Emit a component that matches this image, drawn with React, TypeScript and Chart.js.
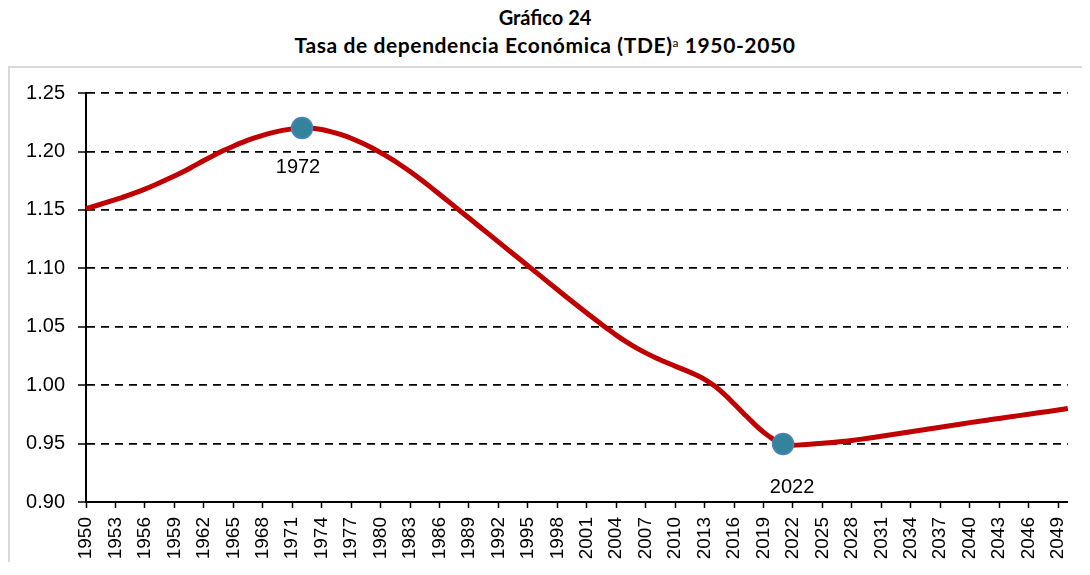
import React, { useEffect, useRef } from "react";
import { Chart, registerables } from "chart.js";

Chart.register(...registerables);

const years: string[] = [];
for (let yr = 1950; yr <= 2050; yr++) years.push(String(yr));

const tdeValues: number[] = [
  // 1950-1959
  1.1510, 1.1535, 1.1561, 1.1588, 1.1616, 1.1646, 1.1678, 1.1713, 1.1751, 1.1790,
  // 1960-1969
  1.1830, 1.1876, 1.1922, 1.1966, 1.2007, 1.2045, 1.2080, 1.2111, 1.2138, 1.2161,
  // 1970-1979
  1.2180, 1.2193, 1.2200, 1.2198, 1.2187, 1.2168, 1.2143, 1.2113, 1.2077, 1.2036,
  // 1980-1989
  1.1990, 1.1940, 1.1886, 1.1828, 1.1766, 1.1701, 1.1634, 1.1566, 1.1498, 1.1430,
  // 1990-1999
  1.1362, 1.1294, 1.1226, 1.1158, 1.1090, 1.1022, 1.0954, 1.0886, 1.0818, 1.0750,
  // 2000-2009
  1.0683, 1.0617, 1.0553, 1.0490, 1.0428, 1.0372, 1.0321, 1.0276, 1.0235, 1.0198,
  // 2010-2019
  1.0163, 1.0129, 1.0093, 1.0050, 0.9994, 0.9923, 0.9841, 0.9756, 0.9673, 0.9598,
  // 2020-2029
  0.9537, 0.9497, 0.9486, 0.9490, 0.9496, 0.9503, 0.9510, 0.9518, 0.9527, 0.9538,
  // 2030-2039
  0.9550, 0.9562, 0.9575, 0.9588, 0.9601, 0.9614, 0.9627, 0.9640, 0.9653, 0.9666,
  // 2040-2049
  0.9679, 0.9691, 0.9703, 0.9715, 0.9727, 0.9739, 0.9751, 0.9763, 0.9775, 0.9787,
  // 2050
  0.9800,
];

const highlightYears: string[] = ["1972", "2021"];
const highlightLabels: string[] = ["1972", "2022"];

const yMin = 0.9;
const yMax = 1.25;
const yStep = 0.05;

const LABEL_OFFSETS = [
  { dx: -4, dy: 39 },
  { dx: 9, dy: 44 },
];

const FONT = "'Liberation Sans', Arial, sans-serif";

export default function App() {
  const canvasRef = useRef<HTMLCanvasElement | null>(null);

  useEffect(() => {
    const canvas = canvasRef.current;
    if (!canvas) return;

    const highlightData = years.map((yr, i) =>
      highlightYears.includes(yr) ? tdeValues[i] : null
    );

    const labelPlugin = {
      id: "pointLabels",
      afterDatasetsDraw(c: any) {
        const ctx = c.ctx;
        const xs = c.scales.x;
        const ys = c.scales.y;
        ctx.save();
        ctx.font = `20px ${FONT}`;
        ctx.fillStyle = "#000";
        ctx.textAlign = "center";
        ctx.textBaseline = "middle";
        highlightYears.forEach((yr, i) => {
          const idx = years.indexOf(yr);
          const px = xs.getPixelForValue(idx);
          const py = ys.getPixelForValue(tdeValues[idx]);
          ctx.fillText(highlightLabels[i], px + LABEL_OFFSETS[i].dx, py + LABEL_OFFSETS[i].dy);
        });
        ctx.restore();
      },
    };

    const chart = new Chart(canvas, {
      type: "line",
      data: {
        labels: years,
        datasets: [
          {
            label: "Puntos",
            data: highlightData,
            showLine: false,
            pointRadius: 10.5,
            pointBackgroundColor: "#31849B",
            pointBorderColor: "#4F81BD",
            pointBorderWidth: 1.5,
            order: 0,
          },
          {
            label: "TDE",
            data: tdeValues,
            borderColor: "#C00000",
            borderWidth: 5,
            pointRadius: 0,
            cubicInterpolationMode: "monotone",
            fill: false,
            order: 1,
          },
        ],
      },
      options: {
        animation: false,
        responsive: false,
        layout: { padding: { top: 24, right: 20, left: 0, bottom: 0 } },
        plugins: {
          legend: { display: false },
          tooltip: { enabled: false },
          title: { display: false },
        },
        scales: {
          x: {
            type: "category",
            offset: false,
            border: { display: true, color: "#000", width: 2 },
            grid: {
              drawOnChartArea: false,
              drawTicks: true,
              tickLength: 6,
              tickColor: "#000",
              tickWidth: 1.5,
            },
            ticks: {
              autoSkip: false,
              maxRotation: 90,
              minRotation: 90,
              padding: 9,
              color: "#000",
              font: { family: FONT, size: 19 },
              callback: (_v: any, i: number) =>
                (Number(years[i]) - 1950) % 3 === 0 ? years[i] : null,
            },
            afterFit: (s: any) => {
              s.height = 73;
            },
          },
          y: {
            min: yMin,
            max: yMax,
            border: { display: true, color: "#000", width: 2, dash: [8, 6] },
            grid: {
              color: "#000",
              lineWidth: 1.8,
              tickLength: 8,
              tickColor: "#000",
              tickWidth: 1.5,
              tickBorderDash: [1, 0],
            },
            ticks: {
              stepSize: yStep,
              padding: 13,
              color: "#000",
              font: { family: FONT, size: 20 },
              callback: (v: any) => Number(v).toFixed(2),
            },
            afterFit: (s: any) => {
              s.width = 76;
            },
          },
        },
      } as any,
      plugins: [labelPlugin],
    });

    return () => chart.destroy();
  }, []);

  return (
    <div style={{ width: 1082, height: 559, fontFamily: "Lato, 'Open Sans', sans-serif" }}>
      <div
        style={{
          height: 58,
          marginTop: -5,
          textAlign: "center",
          fontWeight: 700,
          fontSize: 20,
          lineHeight: "28px",
          color: "#000",
          width: 1074,
        }}
      >
        <div>Gráfico 24</div>
        <div style={{ fontSize: 21, letterSpacing: "0.6px" }}>
          Tasa de dependencia Económica (TDE)
          <sup style={{ fontSize: 12, fontWeight: 400, verticalAlign: "6px", lineHeight: 0 }}>a</sup>{" "}
          1950-2050
        </div>
      </div>
      <div
        style={{
          width: 1082,
          height: 506,
          boxSizing: "border-box",
          borderTop: "2px solid #d9d9d9",
          borderLeft: "2px solid #d9d9d9",
          overflow: "hidden",
          marginTop: 5,
        }}
      >
        <canvas ref={canvasRef} width={1080} height={507} style={{ display: "block" }} />
      </div>
    </div>
  );
}
